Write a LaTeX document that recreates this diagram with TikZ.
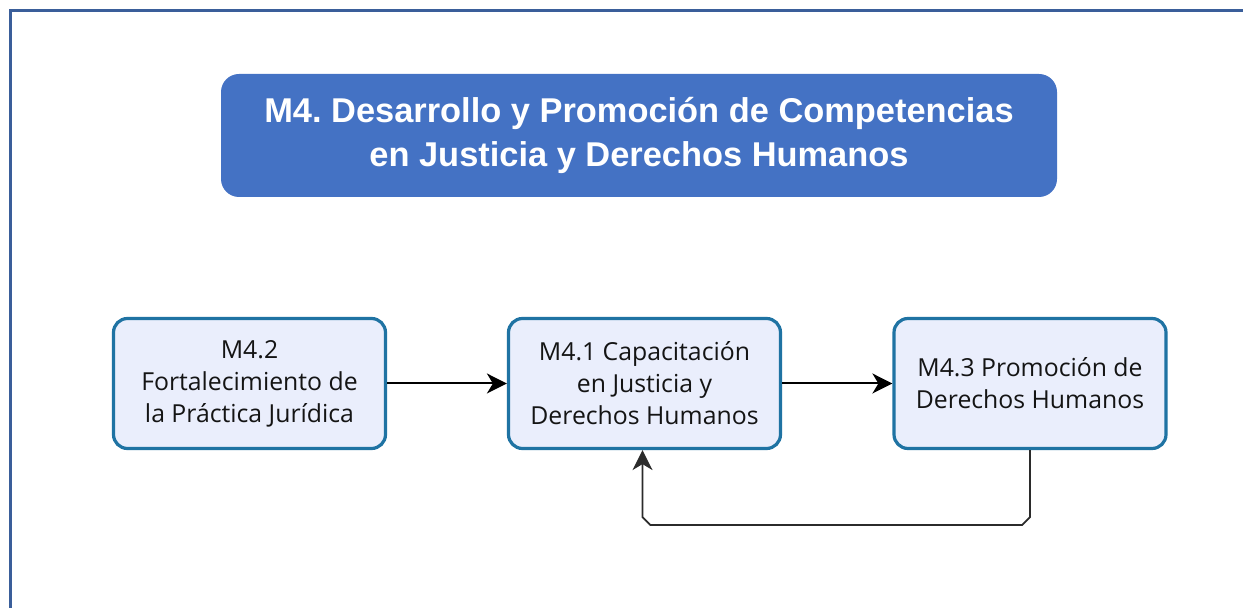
\documentclass[tikz,border=0pt]{standalone}
\usepackage{fontspec}
\setmainfont{Open Sans}
\newfontfamily\titlefont{Liberation Sans}
\usetikzlibrary{arrows.meta,calc}
\frenchspacing

\definecolor{framecol}{HTML}{3A5E9A}
\definecolor{titlecol}{HTML}{4472C4}
\definecolor{boxline}{HTML}{1F73A3}
\definecolor{boxfill}{HTML}{EAEEFC}
\definecolor{loopcol}{HTML}{2B2B2B}

\begin{document}
\begin{tikzpicture}[x=0.5pt,y=-0.5pt,
    modulo/.style={draw=boxline, fill=boxfill, line width=1.6pt, rounded corners=7pt,
      minimum width=136pt, minimum height=65pt, align=center, text=black!92,
      font=\fontsize{12.4}{16}\selectfont},
    flecha/.style={line width=1pt, -{Stealth[length=10pt,width=10pt,inset=3pt]}}]
    \useasboundingbox (0,0) rectangle (1243,608);

    % marco
    \draw[framecol, line width=1.25pt] (10.5,608) -- (10.5,10.5) -- (1243,10.5);

    % titulo
    \node[fill=titlecol, rounded corners=9pt, minimum width=418pt, minimum height=61.5pt,
      text=white, align=center, font=\titlefont\bfseries\fontsize{17.2}{22}\selectfont]
      (titulo) at (639,135.5) {M4. Desarrollo y Promoción de Competencias\\en Justicia y Derechos Humanos};

    % modulos
    \node[modulo] (m42) at (249.5,383.5) {M4.2\\Fortalecimiento de\\la Práctica Jurídica};
    \node[modulo] (m41) at (644.5,383.5) {M4.1 Capacitación\\en Justicia y\\Derechos Humanos};
    \node[modulo] (m43) at (1030,383.5) {M4.3 Promoción de\\Derechos Humanos};

    \draw[flecha] (m42) -- (m41);
    \draw[flecha] (m41) -- (m43);

    % retorno
    \draw[flecha, loopcol, line width=0.9pt] (m43.south) -- ++(0,67) -- ++(-8,8)
      -- ($(m41.south)+(6,75)$) -- ++(-8,-8) -- ($(m41.south)+(-2,0)$);
\end{tikzpicture}
\end{document}
